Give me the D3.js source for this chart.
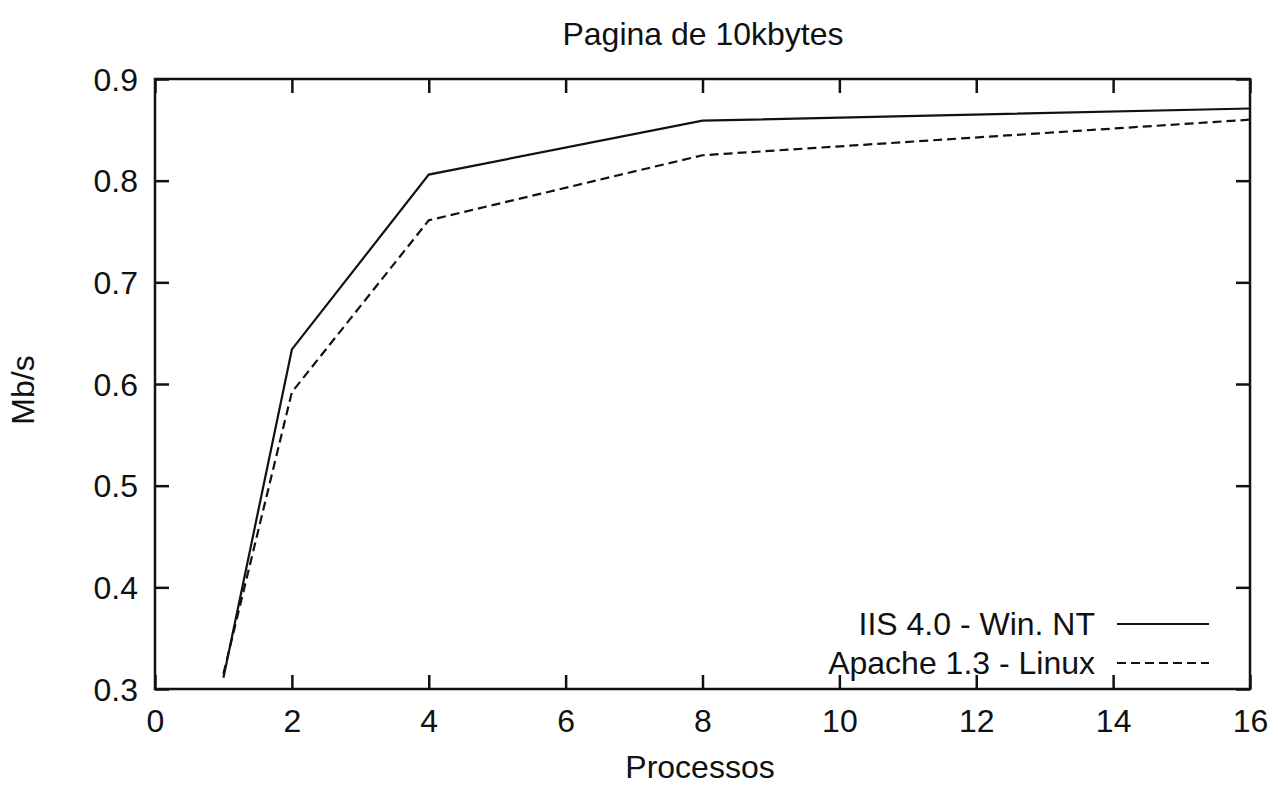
<!DOCTYPE html>
<html>
<head>
<meta charset="utf-8">
<script src="https://cdn.jsdelivr.net/npm/d3@7"></script>
<style>
  html, body { margin: 0; padding: 0; background: #fff; }
  svg text { font-family: "Liberation Sans", Arial, Helvetica, sans-serif; fill: #111; }
</style>
</head>
<body>
<svg id="chart" width="1278" height="788"></svg>
<script>
const processes = [1, 2, 4, 8, 16];
const iisValues = [0.311, 0.634, 0.806, 0.859, 0.871];
const apacheValues = [0.315, 0.592, 0.761, 0.825, 0.860];
const seriesNames = ["IIS 4.0 - Win. NT", "Apache 1.3 - Linux"];
const xTicks = [0, 2, 4, 6, 8, 10, 12, 14, 16];
const yTicks = [0.3, 0.4, 0.5, 0.6, 0.7, 0.8, 0.9];
const title = "Pagina de 10kbytes";
const xLabel = "Processos";
const yLabel = "Mb/s";

const svg = d3.select("#chart");
const m = { left: 155, top: 79, right: 1250, bottom: 689 };
const x = d3.scaleLinear().domain([0, 16]).range([m.left, m.right]);
const y = d3.scaleLinear().domain([0.3, 0.9]).range([m.bottom, m.top]);
const fs = 32;
const tickLen = 14;

const g = svg.append("g");
const axB = d3.axisBottom(x).tickValues(xTicks).tickSize(-tickLen).tickFormat(d3.format("d"));
const axT = d3.axisTop(x).tickValues(xTicks).tickSize(-tickLen).tickFormat("");
const axL = d3.axisLeft(y).tickValues(yTicks).tickSize(-tickLen).tickFormat(d3.format(".1f"));
const axR = d3.axisRight(y).tickValues(yTicks).tickSize(-tickLen).tickFormat("");

function style(sel) {
  sel.select(".domain").remove();
  sel.selectAll(".tick line").attr("stroke", "#111").attr("stroke-width", 2.5);
  sel.selectAll(".tick text").attr("font-size", fs).attr("font-family", "Liberation Sans, Arial, sans-serif").attr("fill", "#111");
}
const gb = g.append("g").attr("transform", `translate(0,${m.bottom})`).call(axB).call(style);
gb.selectAll(".tick text").attr("y", 0).attr("dy", 0).attr("transform", "translate(0,43)");
g.append("g").attr("transform", `translate(0,${m.top})`).call(axT).call(style);
const gl = g.append("g").attr("transform", `translate(${m.left},0)`).call(axL).call(style);
gl.selectAll(".tick text").attr("x", -17).attr("dy", "0.35em");
g.append("g").attr("transform", `translate(${m.right},0)`).call(axR).call(style);

svg.append("rect")
  .attr("x", m.left).attr("y", m.top)
  .attr("width", m.right - m.left).attr("height", m.bottom - m.top)
  .attr("fill", "none").attr("stroke", "#111").attr("stroke-width", 2.5);

const line = d3.line().x(d => x(d[0])).y(d => y(d[1]));
const series = [
  { name: seriesNames[0], values: iisValues, dash: null },
  { name: seriesNames[1], values: apacheValues, dash: "9,5" }
];
series.forEach(s => {
  svg.append("path")
    .datum(processes.map((p, i) => [p, s.values[i]]))
    .attr("d", line)
    .attr("fill", "none").attr("stroke", "#111").attr("stroke-width", 2.2)
    .attr("stroke-dasharray", s.dash);
});

series.forEach((s, i) => {
  const ly = 624 + i * 39;
  svg.append("text").attr("x", 1095).attr("y", ly).attr("dy", "0.35em")
    .attr("text-anchor", "end").attr("font-size", fs).text(s.name);
  svg.append("line").attr("x1", 1117).attr("x2", 1209).attr("y1", ly).attr("y2", ly)
    .attr("stroke", "#111").attr("stroke-width", 2).attr("stroke-dasharray", s.dash);
});

svg.append("text").attr("x", 703).attr("y", 45).attr("text-anchor", "middle").attr("font-size", fs).text(title);
svg.append("text").attr("x", 700).attr("y", 778).attr("text-anchor", "middle").attr("font-size", fs).text(xLabel);
svg.append("text").attr("transform", "translate(34,390) rotate(-90)").attr("text-anchor", "middle").attr("font-size", fs).text(yLabel);
</script>
</body>
</html>
